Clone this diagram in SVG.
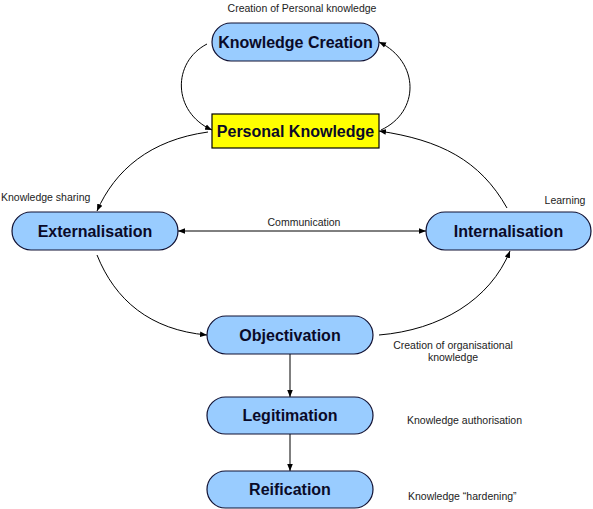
<svg xmlns="http://www.w3.org/2000/svg" width="593" height="509" viewBox="0 0 593 509">
<defs>
<marker id="ah" viewBox="0 0 10 10" refX="10" refY="5" markerWidth="7" markerHeight="7" orient="auto-start-reverse" markerUnits="userSpaceOnUse">
<path d="M0,1 L10,5 L0,9 z" fill="#000"/>
</marker>
<style>
.n{fill:#99CCFF;stroke:#111133;stroke-width:1.2}
.pk{fill:#FFFF00;stroke:#000;stroke-width:1.2}
.nt{font-family:"Liberation Sans",Arial,sans-serif;font-weight:bold;font-size:16px;fill:#0a0a28;text-anchor:middle}
.lb{font-family:"Liberation Sans",Arial,sans-serif;font-size:10.5px;fill:#222}
.c{fill:none;stroke:#000;stroke-width:1}
</style>
</defs>
<rect width="593" height="509" fill="#fff"/>
<g id="connectors">
<path class="c" d="M207,44 C172,62 172,112 212,130" marker-end="url(#ah)"/>
<path class="c" d="M381,130 C420,112 420,62 379,42" marker-end="url(#ah)"/>
<path class="c" d="M208,132 C150,140 115,170 97,211" marker-end="url(#ah)"/>
<path class="c" d="M507,208 C480,160 440,140 379,131" marker-end="url(#ah)"/>
<path class="c" d="M178,231 L426,231" marker-start="url(#ah)" marker-end="url(#ah)"/>
<path class="c" d="M97,255 C115,300 150,330 207,335" marker-end="url(#ah)"/>
<path class="c" d="M379,335 C440,330 490,300 510,251" marker-end="url(#ah)"/>
<path class="c" d="M290,354 L290,397" marker-end="url(#ah)"/>
<path class="c" d="M290,434 L290,471" marker-end="url(#ah)"/>
</g>
<g id="knowledge-creation">
<rect class="n" x="212" y="23" width="167" height="38" rx="19"/>
<text class="nt" x="295.5" y="48">Knowledge Creation</text>
</g>
<g id="personal-knowledge">
<rect class="pk" x="212" y="114" width="167" height="34"/>
<text class="nt" x="295.5" y="137">Personal Knowledge</text>
</g>
<g id="externalisation">
<rect class="n" x="12" y="212" width="166" height="38" rx="19"/>
<text class="nt" x="95" y="237">Externalisation</text>
</g>
<g id="internalisation">
<rect class="n" x="426" y="212" width="165" height="38" rx="19"/>
<text class="nt" x="508.5" y="237">Internalisation</text>
</g>
<g id="objectivation">
<rect class="n" x="207" y="316" width="166" height="38" rx="19"/>
<text class="nt" x="290" y="341">Objectivation</text>
</g>
<g id="legitimation">
<rect class="n" x="207" y="397" width="166" height="37" rx="18.5"/>
<text class="nt" x="290" y="421">Legitimation</text>
</g>
<g id="reification">
<rect class="n" x="207" y="471" width="166" height="37" rx="18.5"/>
<text class="nt" x="290" y="495">Reification</text>
</g>
<g id="labels">
<text class="lb" x="302" y="12" text-anchor="middle">Creation of Personal knowledge</text>
<text class="lb" x="1" y="201">Knowledge sharing</text>
<text class="lb" x="565" y="204" text-anchor="middle">Learning</text>
<text class="lb" x="304" y="226" text-anchor="middle">Communication</text>
<text class="lb" x="453" y="349" text-anchor="middle">Creation of organisational</text>
<text class="lb" x="453" y="361" text-anchor="middle">knowledge</text>
<text class="lb" x="407" y="424">Knowledge authorisation</text>
<text class="lb" x="408" y="500">Knowledge “hardening”</text>
</g>
</svg>
